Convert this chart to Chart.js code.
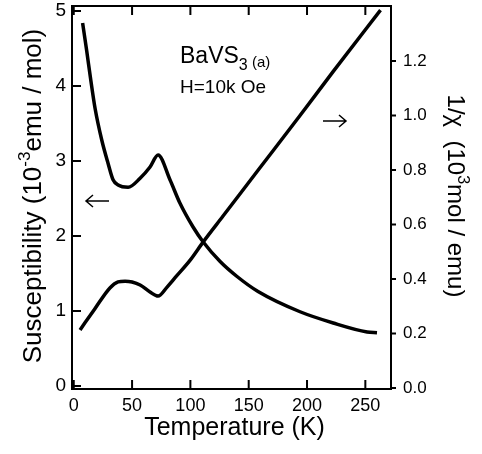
<!DOCTYPE html>
<html>
<head>
<meta charset="utf-8">
<script src="https://cdn.jsdelivr.net/npm/chart.js@4.4.1/dist/chart.umd.min.js"></script>
<style>
  html, body { margin: 0; padding: 0; background: #fff; }
</style>
</head>
<body>
<canvas id="chart" width="482" height="454"></canvas>
<script>
// susceptibility chi (10^-3 emu/mol), left axis
const chiTemps  = [7.6, 11.1, 14.6, 18.3, 24, 29.4, 33.7, 38, 46.6, 56.9, 65.4, 72.3, 82.5, 91, 102.3, 111, 125.5, 140, 158, 194, 222.5, 251.5, 260];
const chiValues = [4.84, 4.47, 4.08, 3.70, 3.28, 2.97, 2.75, 2.68, 2.65, 2.77, 2.92, 3.08, 2.75, 2.44, 2.12, 1.92, 1.66, 1.46, 1.26, 0.99, 0.84, 0.72, 0.71];

// inverse susceptibility 1/chi (10^3 mol/emu), right axis
const invTemps  = [5.4, 18, 31, 38, 44, 50, 56.9, 65.4, 72.3, 80, 88, 100, 111, 128, 158, 194, 222.5, 263];
const invValues = [0.213, 0.29, 0.367, 0.389, 0.392, 0.389, 0.378, 0.352, 0.337, 0.37, 0.41, 0.47, 0.536, 0.631, 0.799, 1.0, 1.162, 1.387];

const xTicks = [0, 50, 100, 150, 200, 250];
const chiTicks = [0, 1, 2, 3, 4, 5];
const invTicks = [0, 0.2, 0.4, 0.6, 0.8, 1.0, 1.2];

const FONT = '"Liberation Sans", Arial, Helvetica, sans-serif';

// draw a row of text pieces (sub/superscripts) starting at x
function drawRuns(ctx, runs, x, y, align) {
  let total = 0;
  runs.forEach(r => {
    ctx.font = r.size + 'px ' + FONT;
    r.w = ctx.measureText(r.text).width;
    total += r.w;
  });
  let cx = align === 'center' ? x - total / 2 : x;
  runs.forEach(r => {
    ctx.font = r.size + 'px ' + FONT;
    ctx.fillText(r.text, cx, y + (r.dy || 0));
    cx += r.w;
  });
}

// keep the plot box fixed, labels may hang over the edges
function noPad(s) {
  s.paddingTop = 0; s.paddingBottom = 0;
  s.paddingLeft = 0; s.paddingRight = 0;
}

const framePlugin = {
  id: 'framePlugin',
  afterDraw(chart) {
    const { ctx, chartArea: a, scales } = chart;
    ctx.save();
    ctx.strokeStyle = '#000';
    ctx.lineWidth = 2;
    ctx.strokeRect(a.left, a.top, a.right - a.left, a.bottom - a.top);

    // inside ticks (bottom, top, left), outside ticks on the right
    ctx.beginPath();
    xTicks.forEach(v => {
      const px = scales.x.getPixelForValue(v);
      ctx.moveTo(px, a.bottom); ctx.lineTo(px, a.bottom - 9);
      ctx.moveTo(px, a.top); ctx.lineTo(px, a.top + 9);
    });
    chiTicks.forEach(v => {
      const py = scales.y.getPixelForValue(v);
      ctx.moveTo(a.left, py); ctx.lineTo(a.left + 9, py);
    });
    invTicks.forEach(v => {
      const py = scales.y2.getPixelForValue(v);
      ctx.moveTo(a.right, py); ctx.lineTo(a.right + 5, py);
    });
    ctx.stroke();

    ctx.fillStyle = '#000';
    ctx.textBaseline = 'alphabetic';
    ctx.textAlign = 'left';

    // x title
    drawRuns(ctx, [{ text: 'Temperature (K)', size: 25 }], (a.left + a.right) / 2 + 3, 435, 'center');

    // left title
    ctx.save();
    ctx.translate(41, 196);
    ctx.rotate(-Math.PI / 2);
    drawRuns(ctx, [
      { text: 'Susceptibility (10', size: 26 },
      { text: '-3', size: 17, dy: -11 },
      { text: 'emu / mol)', size: 26 }
    ], 0, 0, 'center');
    ctx.restore();

    // right title
    ctx.save();
    ctx.translate(448, 196);
    ctx.rotate(Math.PI / 2);
    drawRuns(ctx, [
      { text: '1/\u03c7  (10', size: 24 },
      { text: '3', size: 16, dy: -10 },
      { text: 'mol / emu)', size: 24 }
    ], 0, 0, 'center');
    ctx.restore();

    // sample label
    drawRuns(ctx, [
      { text: 'BaVS', size: 23 },
      { text: '3', size: 16, dy: 7 },
      { text: ' (a)', size: 15, dy: 4 }
    ], 180, 63, 'left');
    drawRuns(ctx, [{ text: 'H=10k Oe', size: 19 }], 180, 93, 'left');

    // arrows pointing to each axis
    ctx.lineWidth = 1.5;
    const arrow = (x1, x2, y, dir) => {
      ctx.beginPath();
      ctx.moveTo(x1, y); ctx.lineTo(x2, y);
      const tip = dir < 0 ? x1 : x2;
      ctx.moveTo(tip - dir * 7, y - 6); ctx.lineTo(tip, y); ctx.lineTo(tip - dir * 7, y + 6);
      ctx.stroke();
    };
    arrow(86, 109, 201, -1);
    arrow(323, 346, 121, 1);

    ctx.restore();
  }
};

new Chart(document.getElementById('chart'), {
  type: 'scatter',
  data: {
    datasets: [
      {
        label: 'chi',
        data: chiTemps.map((t, i) => ({ x: t, y: chiValues[i] })),
        yAxisID: 'y',
        showLine: true,
        borderColor: '#000',
        borderWidth: 3.5,
        pointRadius: 0,
        cubicInterpolationMode: 'monotone'
      },
      {
        label: '1/chi',
        data: invTemps.map((t, i) => ({ x: t, y: invValues[i] })),
        yAxisID: 'y2',
        showLine: true,
        borderColor: '#000',
        borderWidth: 3.5,
        pointRadius: 0,
        cubicInterpolationMode: 'monotone'
      }
    ]
  },
  options: {
    responsive: false,
    animation: false,
    layout: { padding: { top: 6, left: 0, right: 0, bottom: 0 } },
    plugins: { legend: { display: false }, tooltip: { enabled: false } },
    scales: {
      x: {
        type: 'linear',
        position: 'bottom',
        min: -1.5,
        max: 272,
        afterBuildTicks: s => { s.ticks = xTicks.map(v => ({ value: v })); },
        afterFit: s => { s.height = 65; noPad(s); },
        grid: { drawOnChartArea: false, drawTicks: false },
        border: { display: false },
        ticks: { color: '#000', padding: 6, font: { size: 18, family: FONT } }
      },
      y: {
        type: 'linear',
        position: 'left',
        min: -0.04,
        max: 5.067,
        afterBuildTicks: s => { s.ticks = chiTicks.map(v => ({ value: v })); },
        afterFit: s => { s.width = 72; noPad(s); },
        grid: { drawOnChartArea: false, drawTicks: false },
        border: { display: false },
        ticks: { color: '#000', padding: 6, font: { size: 19, family: FONT } }
      },
      y2: {
        type: 'linear',
        position: 'right',
        min: -0.004,
        max: 1.402,
        afterBuildTicks: s => { s.ticks = invTicks.map(v => ({ value: v })); },
        afterFit: s => { s.width = 91; noPad(s); },
        grid: { drawOnChartArea: false, drawTicks: false },
        border: { display: false },
        ticks: {
          color: '#000',
          padding: 12,
          font: { size: 17, family: FONT },
          callback: v => v.toFixed(1)
        }
      }
    }
  },
  plugins: [framePlugin]
});
</script>
</body>
</html>
